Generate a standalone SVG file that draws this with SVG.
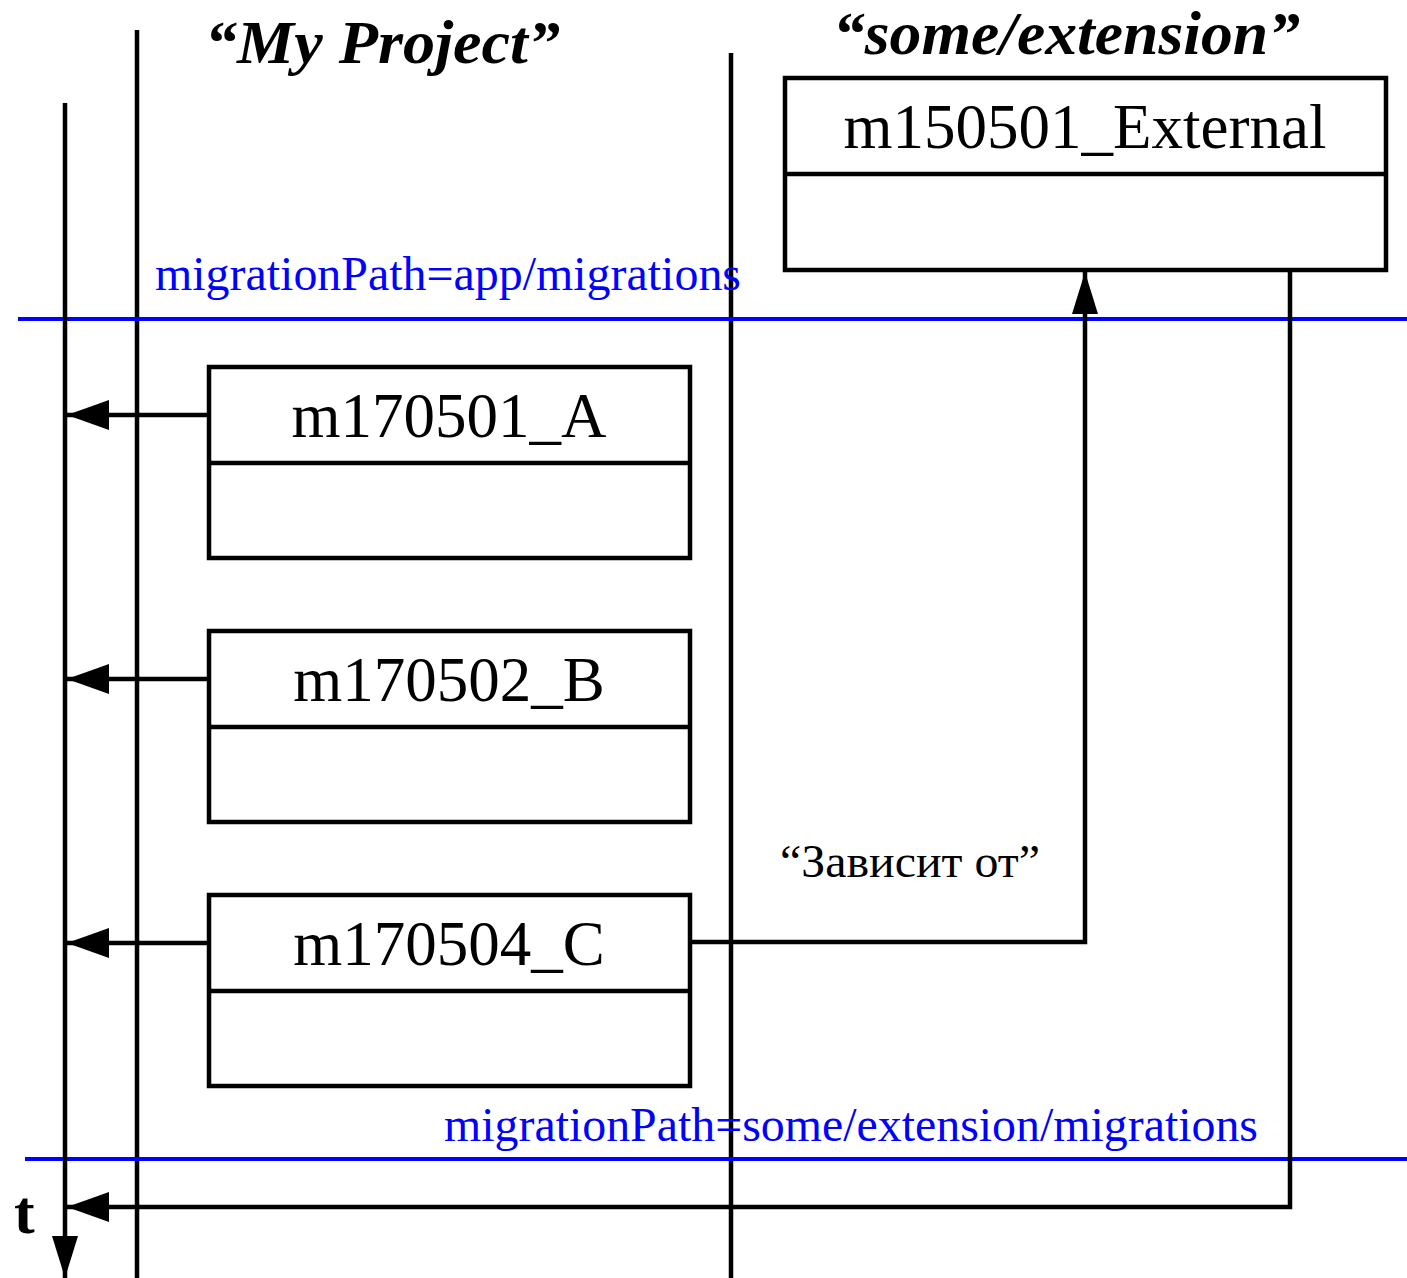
<svg xmlns="http://www.w3.org/2000/svg" width="1407" height="1278" viewBox="0 0 1407 1278">
<style>
.box{fill:#fff;stroke:#000;stroke-width:4.5}
.ln{fill:none;stroke:#000;stroke-width:4.5}
.blue{fill:none;stroke:#0000ff;stroke-width:4}
.lbl{font-family:"Liberation Serif","Times New Roman",serif;font-size:63px;fill:#000;text-anchor:middle}
.title{font-family:"Liberation Serif","Times New Roman",serif;font-size:62px;font-weight:bold;font-style:italic;fill:#000}
.path{font-family:"Liberation Serif","Times New Roman",serif;font-size:48px;fill:#0000ff}
.note{font-family:"Liberation Serif","Times New Roman",serif;font-size:46px;fill:#000}
</style>
<defs>
<marker id="ah" markerUnits="userSpaceOnUse" markerWidth="42" markerHeight="30" refX="42" refY="15" orient="auto" viewBox="0 0 42 30"><path d="M0,0 L42,15 L0,30 z" fill="#000"/></marker>
<marker id="ahn" markerUnits="userSpaceOnUse" markerWidth="42" markerHeight="26" refX="42" refY="13" orient="auto" viewBox="0 0 42 26"><path d="M0,0 L42,13 L0,26 z" fill="#000"/></marker>
</defs>
<rect x="0" y="0" width="1407" height="1278" fill="#fff"/>
<g id="lanes">
<line class="ln" x1="137" y1="30" x2="137" y2="1278"/>
<line class="ln" x1="731" y1="53" x2="731" y2="1278"/>
<line class="blue" x1="18" y1="319" x2="1407" y2="319"/>
<line class="blue" x1="25" y1="1159" x2="1407" y2="1159"/>
</g>
<g id="titles">
<text class="title" x="205" y="63" textLength="355" lengthAdjust="spacingAndGlyphs">“My Project”</text>
<text class="title" x="833" y="54" textLength="467" lengthAdjust="spacingAndGlyphs">“some/extension”</text>
<text class="path" x="155" y="290" textLength="586" lengthAdjust="spacingAndGlyphs">migrationPath=app/migrations</text>
<text class="path" x="444" y="1141" textLength="814" lengthAdjust="spacingAndGlyphs">migrationPath=some/extension/migrations</text>
</g>
<g id="connectors">
<line class="ln" x1="65" y1="103" x2="65" y2="1278" marker-end="url(#ahn)"/>
<line class="ln" x1="209" y1="415" x2="67" y2="415" marker-end="url(#ah)"/>
<line class="ln" x1="209" y1="679" x2="67" y2="679" marker-end="url(#ah)"/>
<line class="ln" x1="209" y1="943" x2="67" y2="943" marker-end="url(#ah)"/>
<polyline class="ln" points="690,942 1085,942 1085,272" marker-end="url(#ahn)"/>
<polyline class="ln" points="1290,270 1290,1207 67,1207" marker-end="url(#ah)"/>
<text class="note" x="780" y="877" textLength="260" lengthAdjust="spacingAndGlyphs">“Зависит от”</text>
<text class="title" x="14" y="1233" style="font-style:normal">t</text>
</g>
<g id="m150501_External">
<rect class="box" x="785" y="78" width="601" height="192"/>
<line class="ln" x1="785" y1="174" x2="1386" y2="174"/>
<text class="lbl" x="1085" y="148">m150501_External</text>
</g>
<g id="m170501_A">
<rect class="box" x="209" y="367" width="481" height="191"/>
<line class="ln" x1="209" y1="463" x2="690" y2="463"/>
<text class="lbl" x="449" y="437">m170501_A</text>
</g>
<g id="m170502_B">
<rect class="box" x="209" y="631" width="481" height="191"/>
<line class="ln" x1="209" y1="727" x2="690" y2="727"/>
<text class="lbl" x="449" y="701">m170502_B</text>
</g>
<g id="m170504_C">
<rect class="box" x="209" y="895" width="481" height="191"/>
<line class="ln" x1="209" y1="991" x2="690" y2="991"/>
<text class="lbl" x="449" y="965">m170504_C</text>
</g>
</svg>
